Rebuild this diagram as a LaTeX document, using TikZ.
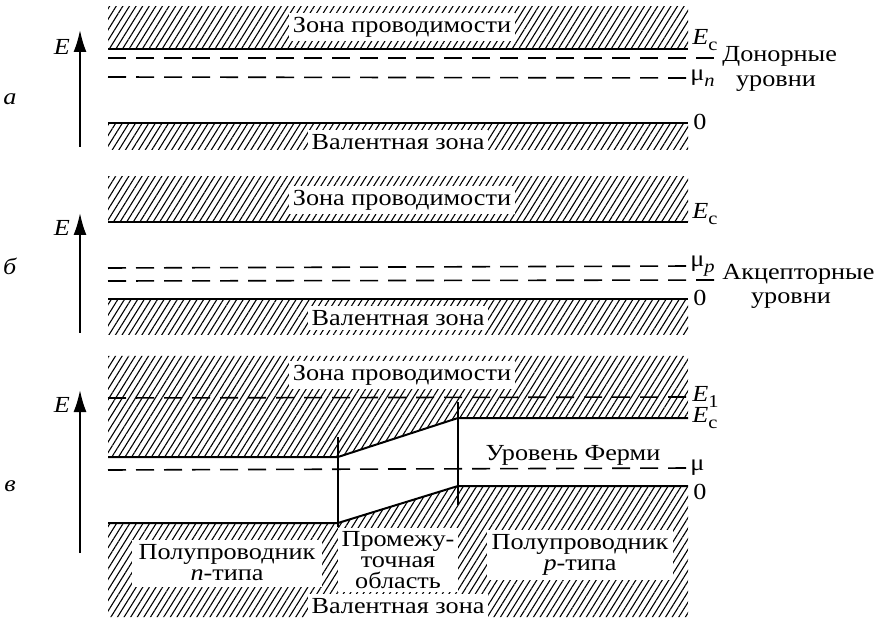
\documentclass[tikz,border=0pt]{standalone}
\usepackage{fontspec}
\setmainfont{Liberation Serif}[FakeStretch=1.14]
\usetikzlibrary{arrows.meta, patterns.meta}

% level label with a lowered index
\newcommand\lvl[2]{#1\raisebox{-0.55ex}{\small #2}}

\begin{document}
\begin{tikzpicture}[x=0.5pt, y=-0.5pt,
  font=\fontsize{11.5}{10.5}\selectfont,
  hatch/.style={pattern={Lines[angle=58, distance=2.8pt, line width=0.55pt]}},
  edge/.style={line width=1pt},
  lvlline/.style={line width=0.8pt, dash pattern=on 9pt off 5pt},
  axis/.style={-{Latex[length=11pt, width=6.5pt]}, line width=1pt},
  lbl/.style={fill=white, inner sep=2pt},
  tag/.style={anchor=west, inner sep=0pt}]
\useasboundingbox (0,0) rectangle (884,636);

% --- a: donor levels
\fill[hatch] (108,7) rectangle (688,49);
\fill[hatch] (108,123) rectangle (688,150);
\draw[edge] (108,49) -- (688,49);
\draw[edge] (108,123) -- (688,123);
\node[lbl] (cbA) at (402,27) {Зона проводимости};
\node[lbl] (vbA) at (398,142) {Валентная зона};
\node[tag] (ecA) at (692,40) {\lvl{\textit{E}}{c}};
\node[tag, anchor=base west] (donA) at (722,62) {Донорные};
\node (urA) at (776,84) {уровни};
\node[tag] (muA) at (690,78) {\lvl{μ}{\textit{n}}};
\node[tag] (zeroA) at (693,122) {0};
\draw[lvlline] (108,58) -- (donA.base west |- 0,58);
\draw[lvlline] (108,77) -- (muA.west);
\draw[axis] (80,147) -- (80,30);
\node (eA) at (62,47) {\textit{E}};
\node (tagA) at (10,99) {\textit{а}};

% --- b: acceptor levels
\fill[hatch] (108,177) rectangle (688,222);
\fill[hatch] (108,299) rectangle (688,335);
\draw[edge] (108,222) -- (688,222);
\draw[edge] (108,299) -- (688,299);
\node[lbl] (cbB) at (402,200) {Зона проводимости};
\node[lbl] (vbB) at (398,318) {Валентная зона};
\node[tag] (ecB) at (692,214) {\lvl{\textit{E}}{c}};
\node[tag] (muB) at (690,266) {\lvl{μ}{\textit{p}}};
\node[tag, anchor=base west] (accB) at (722,280) {Акцепторные};
\node (urB) at (791,301) {уровни};
\node[tag] (zeroB) at (693,298) {0};
\draw[lvlline] (108,268) -- (muB.west);
\draw[lvlline] (108,281) -- (accB.base west);
\draw[axis] (80,333) -- (80,213);
\node (eB) at (62,228) {\textit{E}};
\node (tagB) at (10,266) {\textit{б}};

% --- c: junction
\fill[hatch] (108,356) -- (688,356) -- (688,418) -- (458,418) -- (338,457)
  -- (108,457) -- cycle;
\fill[hatch] (108,523) -- (338,523) -- (458,486) -- (688,486) -- (688,617)
  -- (108,617) -- cycle;
\draw[edge] (108,457) -- (338,457) -- (458,418) -- (688,418);
\draw[edge] (108,523) -- (338,523) -- (458,486) -- (688,486);
\draw[line width=0.6pt] (338,437) -- (338,527);
\draw[line width=0.6pt] (458,402) -- (458,505);
\node[lbl] (cbC) at (402,375) {Зона проводимости};
\node (fermi) at (573,455) {Уровень Ферми};
\node[lbl, align=center, minimum width=95pt, minimum height=23.5pt] (nC)
  at (227,563) {Полупроводник\\\textit{n}-типа};
\node[lbl, align=center, inner sep=1pt, minimum width=60pt, minimum height=32pt] (midC)
  at (398,560) {Промежу-\\точная\\область};
\node[lbl, align=center, minimum width=93pt, minimum height=25pt] (pC)
  at (580,555) {Полупроводник\\\textit{p}-типа};
\node[lbl] (vbC) at (398,606) {Валентная зона};
\node[tag] (e1C) at (692,397) {\lvl{\textit{E}}{1}};
\node[tag] (ecC) at (692,418) {\lvl{\textit{E}}{c}};
\node[tag] (muC) at (690,468) {μ};
\node[tag] (zeroC) at (693,492) {0};
\draw[lvlline] (108,398) -- (e1C.west);
\draw[lvlline] (108,470) -- (muC.west);
\draw[axis] (80,553) -- (80,390);
\node (eC) at (62,405) {\textit{E}};
\node (tagC) at (10,486) {\textit{в}};
\end{tikzpicture}
\end{document}
